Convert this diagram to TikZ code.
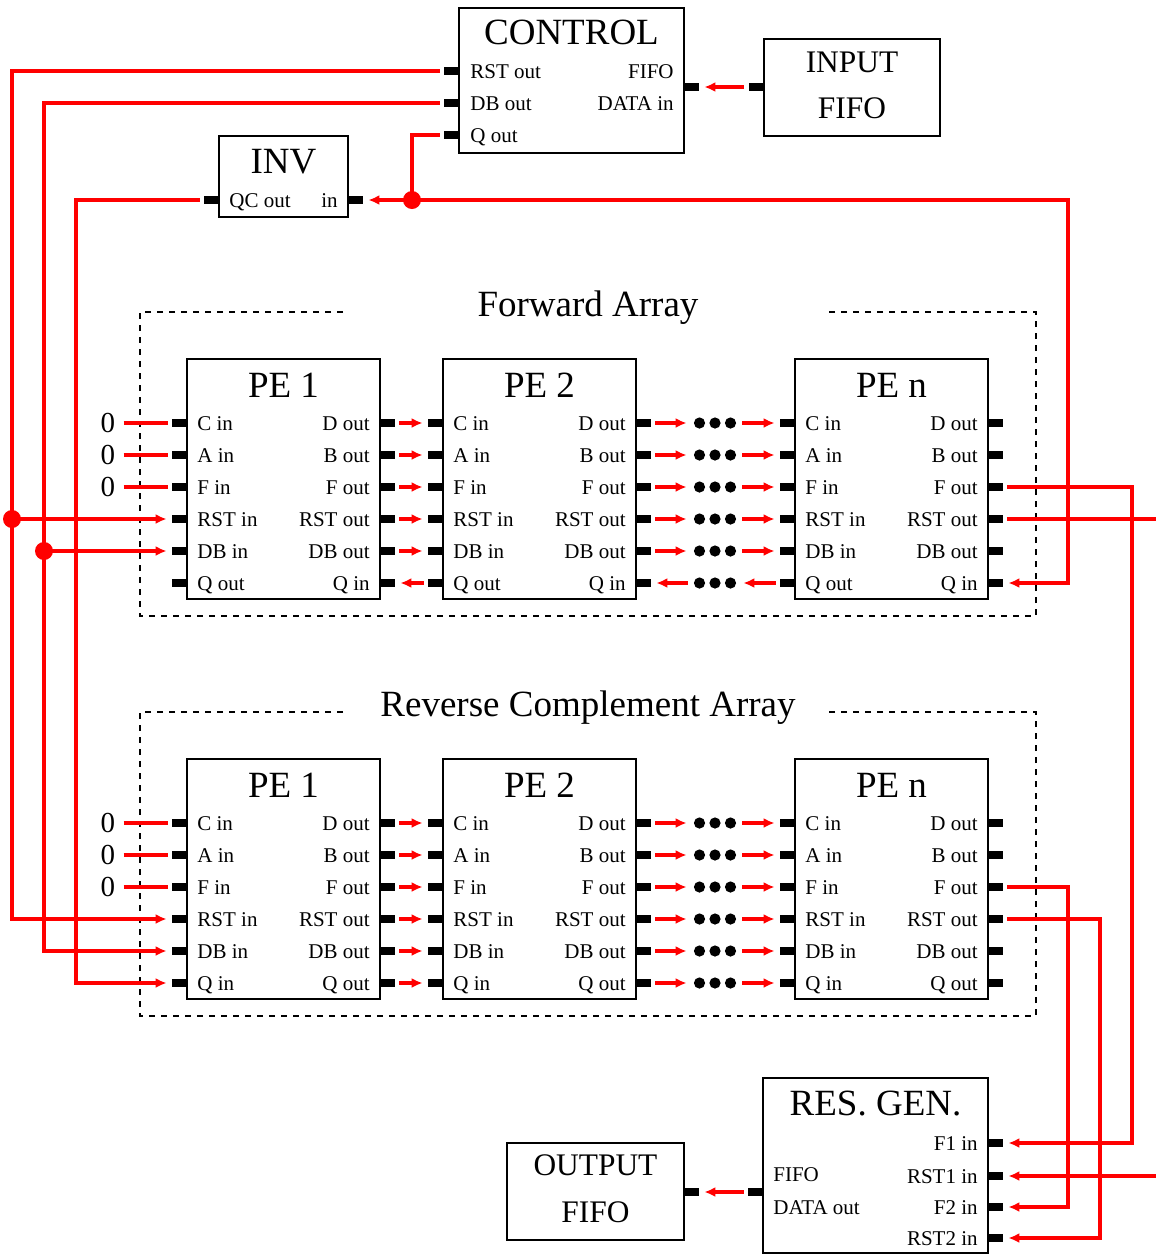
\documentclass[tikz,border=0pt]{standalone}
\usepackage{fontspec}
\setmainfont{Liberation Serif}
\usetikzlibrary{arrows.meta}

\begin{document}
\begin{tikzpicture}[x=0.5pt, y=-0.5pt, >={Latex[length=5.5pt,width=5pt]},
  blk/.style={draw, line width=1.25pt, inner sep=0pt},
  stub/.style={fill=black, inner sep=0pt, minimum width=7.5pt, minimum height=4pt},
  wire/.style={red, line width=1.7pt, shorten <=2pt},
  sig/.style={wire, ->, shorten >=2.5pt},
  jdot/.style={circle, fill=red, inner sep=0pt, minimum size=9pt},
  pdots/.style={inner sep=0pt, minimum width=23pt, minimum height=6.5pt,
    path picture={
      \fill (path picture bounding box.center) circle (2.8pt);
      \fill ([xshift=-7.75pt]path picture bounding box.center) circle (2.8pt);
      \fill ([xshift=7.75pt]path picture bounding box.center) circle (2.8pt);}},
  ttl/.style={inner sep=0pt, font=\fontsize{18.5}{22}\selectfont},
  ftl/.style={inner sep=0pt, font=\fontsize{15.7}{19}\selectfont},
  plab/.style={inner sep=0pt, font=\fontsize{10.5}{12}\selectfont},
  zero/.style={inner sep=0pt, font=\fontsize{14.5}{17}\selectfont},
  grp/.style={line width=0.75pt, dash pattern=on 3pt off 3pt}]
\useasboundingbox (0,0) rectangle (1156,1255);

% control block and input fifo
\node[blk, minimum width=112.5pt, minimum height=72.5pt] (ctrl) at (571.5,80.5) {};
\node[ttl, anchor=base] (ctrlt) at (571.5,44) {CONTROL};
\node[stub] (ctrlRST) at (451.5,71) {};
\node[stub] (ctrlDB) at (451.5,103) {};
\node[stub] (ctrlQ) at (451.5,135) {};
\node[stub] (ctrlIN) at (691.5,87) {};
\node[plab, anchor=base west] (ctrla) at (470,78) {RST out};
\node[plab, anchor=base west] (ctrlb) at (470,110) {DB out};
\node[plab, anchor=base west] (ctrlc) at (470,142) {Q out};
\node[plab, anchor=base east] (ctrld) at (674,78) {FIFO};
\node[plab, anchor=base east] (ctrle) at (674,110) {DATA in};

\node[blk, minimum width=88pt, minimum height=48.5pt] (infifo) at (852,87.5) {};
\node[ftl, anchor=base] (infifot) at (852,72) {INPUT};
\node[ftl, anchor=base] (infifob) at (852,118) {FIFO};
\node[stub] (infifoOUT) at (756,87) {};
\draw[sig] (infifoOUT) -- (ctrlIN);

% inverter
\node[blk, minimum width=64.5pt, minimum height=40.5pt] (inv) at (283.5,176.5) {};
\node[ttl, anchor=base] (invt) at (283.5,173) {INV};
\node[stub] (invQC) at (211.5,200) {};
\node[stub] (invIN) at (355.5,200) {};
\node[plab, anchor=base west] (inva) at (229,207) {QC out};
\node[plab, anchor=base east] (invb) at (338,207) {in};

% array frames
\draw[grp] (343,312) -| (140,616) -| (1036,312) -- (828,312);
\node[ttl, anchor=base] (fwt) at (588,316) {Forward Array};
\draw[grp] (343,712) -| (140,1016) -| (1036,712) -- (828,712);
\node[ttl, anchor=base] (rct) at (588,716) {Reverse Complement Array};

% processing elements
\foreach \arr/\dy/\qa/\qb in {fw/0/Q out/Q in, rc/400/Q in/Q out}
  \foreach \pe/\px in {1/187, 2/443, n/795} {
    \node[blk, minimum width=96.5pt, minimum height=120pt] (\arr\pe) at (\px+96.5,479+\dy) {};
    \node[ttl, anchor=base] (\arr\pe t) at (\px+96.5,397+\dy) {PE \pe};
    \foreach \rw/\ry/\lft/\rgt in {1/423/C in/D out, 2/455/A in/B out, 3/487/F in/F out,
        4/519/RST in/RST out, 5/551/DB in/DB out, 6/583/\qa/\qb} {
      \node[stub] (\arr\pe L\rw) at (\px-7.5,\ry+\dy) {};
      \node[stub] (\arr\pe R\rw) at (\px+200.5,\ry+\dy) {};
      \node[plab, anchor=base west] (\arr\pe a\rw) at (\px+10,\ry+\dy+7) {\lft};
      \node[plab, anchor=base east] (\arr\pe b\rw) at (\px+183,\ry+\dy+7) {\rgt};
    }
  }

% constant inputs
\foreach \arr/\dy in {fw/0, rc/400}
  \foreach \rw/\ry in {1/423, 2/455, 3/487} {
    \node[zero] (\arr z\rw) at (108,\ry+\dy) {0};
    \draw[wire, shorten <=4pt, shorten >=2pt] (\arr z\rw) -- (\arr 1L\rw);
  }

% chains between elements
\coordinate (dotsx) at (715,0);
\foreach \arr/\last in {fw/5, rc/6}
  \foreach \rw in {1,...,\last} {
    \draw[sig] (\arr 1R\rw) -- (\arr 2L\rw);
    \node[pdots] (\arr d\rw) at (dotsx |- \arr 2R\rw) {};
    \draw[sig] (\arr 2R\rw) -- (\arr d\rw);
    \draw[sig] (\arr d\rw) -- (\arr nL\rw);
  }
\draw[sig] (fw2L6) -- (fw1R6);
\node[pdots] (fwd6) at (dotsx |- fw2R6) {};
\draw[sig] (fwd6) -- (fw2R6);
\draw[sig] (fwnL6) -- (fwd6);

% result generator and output fifo
\node[blk, minimum width=112.5pt, minimum height=87.5pt] (resgen) at (875.5,1165.5) {};
\node[ttl, anchor=base] (resgent) at (875.5,1115) {RES. GEN.};
\node[stub] (resF1) at (995.5,1143) {};
\node[stub] (resRST1) at (995.5,1176) {};
\node[stub] (resF2) at (995.5,1207) {};
\node[stub] (resRST2) at (995.5,1238) {};
\node[stub] (resOUT) at (755.5,1192) {};
\node[plab, anchor=base east] (resa) at (978,1150) {F1 in};
\node[plab, anchor=base east] (resb) at (978,1183) {RST1 in};
\node[plab, anchor=base east] (resc) at (978,1214) {F2 in};
\node[plab, anchor=base east] (resd) at (978,1245) {RST2 in};
\node[plab, anchor=base west] (rese) at (773,1181) {FIFO};
\node[plab, anchor=base west] (resf) at (773,1214) {DATA out};

\node[blk, minimum width=88.5pt, minimum height=48.5pt] (outfifo) at (595.5,1191.5) {};
\node[ftl, anchor=base] (outfifot) at (595.5,1175) {OUTPUT};
\node[ftl, anchor=base] (outfifob) at (595.5,1222) {FIFO};
\node[stub] (outfifoIN) at (691.5,1192) {};
\draw[sig] (resOUT) -- (outfifoIN);

% control buses on the left
\coordinate (rstbus) at (12,0);
\coordinate (dbbus) at (44,0);
\coordinate (qcbus) at (76,0);
\draw[sig] (ctrlRST.west) -| (rstbus |- rc1L4) -- (rc1L4.west);
\draw[sig] (ctrlDB.west) -| (dbbus |- rc1L5) -- (rc1L5.west);
\draw[sig] (invQC.west) -| (qcbus |- rc1L6) -- (rc1L6.west);
\node[jdot] (rstj) at (rstbus |- fw1L4) {};
\node[jdot] (dbj) at (dbbus |- fw1L5) {};
\draw[sig] (rstj.center) -- (fw1L4.west);
\draw[sig] (dbj.center) -- (fw1L5.west);

% Q feedback loop
\coordinate (qloop) at (1068,0);
\node[jdot] (qj) at (412,200) {};
\draw[wire] (ctrlQ.west) -| (qj.center);
\draw[sig] (qj.center) -- (invIN);
\draw[sig] (qj.center) -| (qloop |- fwnR6) -- (fwnR6.east);

% results on the right
\coordinate (f1bus) at (1132,0);
\coordinate (rst2bus) at (1100,0);
\coordinate (f2bus) at (1068,0);
\coordinate (rexit) at (1160,0);
\draw[sig] (fwnR3.east) -| (f1bus |- resF1) -- (resF1.east);
\draw[wire] (fwnR4.east) -- (rexit |- fwnR4);
\draw[sig] (rexit |- resRST1) -- (resRST1.east);
\draw[sig] (rcnR3.east) -| (f2bus |- resF2) -- (resF2.east);
\draw[sig] (rcnR4.east) -| (rst2bus |- resRST2) -- (resRST2.east);
\end{tikzpicture}
\end{document}
